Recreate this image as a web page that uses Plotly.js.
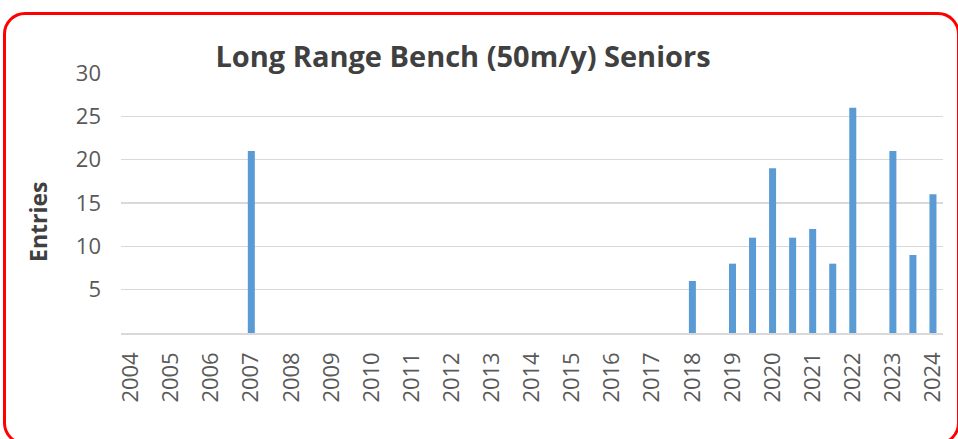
<!DOCTYPE html>
<html>
<head>
<meta charset="utf-8">
<script src="https://cdn.plot.ly/plotly-3.0.1.min.js"></script>
<style>
  html, body { margin: 0; padding: 0; background: #ffffff; overflow: hidden; }
  #wrap { position: relative; width: 958px; height: 439px; overflow: hidden; }
  #chart { position: absolute; left: 0; top: 0; width: 958px; height: 439px; }
  #frame {
    position: absolute; left: 3px; top: 12px; width: 957px; height: 433px;
    box-sizing: border-box; border: 3px solid #ff0000; border-radius: 22px;
    pointer-events: none;
  }
</style>
</head>
<body>
<div id="wrap">
  <div id="chart"></div>
  <div id="frame"></div>
</div>
<script>
// Category slots (half-year slots between labelled years)
const categories = [
  '2004','2004.5','2005','2005.5','2006','2006.5','2007','2007.5','2008','2008.5',
  '2009','2009.5','2010','2010.5','2011','2011.5','2012','2012.5','2013','2013.5',
  '2014','2014.5','2015','2015.5','2016','2016.5','2017','2017.5','2018','2018.5',
  '2019','2019.5','2020','2020.5','2021','2021.5','2022','2022.5','2023','2023.5','2024'
];
// Entries per slot (null = no bar)
const entries = [
  null,null,null,null,null,null,21,null,null,null,
  null,null,null,null,null,null,null,null,null,null,
  null,null,null,null,null,null,null,null,6,null,
  8,11,19,11,12,8,26,null,21,9,16
];
const tickYears = ['2004','2005','2006','2007','2008','2009','2010','2011','2012','2013',
  '2014','2015','2016','2017','2018','2019','2020','2021','2022','2023','2024'];
const yTicks = [5, 10, 15, 20, 25, 30];
const yTitle = 'Entries';

const trace = {
  type: 'bar',
  x: categories,
  y: entries,
  marker: { color: '#5b9bd5' },
  hoverinfo: 'x+y'
};

const layout = {
  width: 958,
  height: 439,
  margin: { l: 121, r: 15, t: 73, b: 106 },
  paper_bgcolor: '#ffffff',
  plot_bgcolor: '#ffffff',
  bargap: 0.65,
  showlegend: false,
  font: { family: '"Open Sans", sans-serif', color: '#595959' },
  title: {
    text: 'Long Range Bench (50m/y) Seniors',
    font: { family: '"Open Sans", sans-serif', size: 29, color: '#404040', weight: 'bold' },
    xref: 'container', yref: 'container',
    x: 463 / 958, xanchor: 'center',
    y: 1 - 57 / 439, yanchor: 'middle'
  },
  xaxis: {
    type: 'category',
    categoryorder: 'array',
    categoryarray: categories,
    range: [-0.5, categories.length - 0.5],
    tickmode: 'array',
    tickvals: tickYears,
    ticktext: tickYears,
    tickangle: -90,
    tickfont: { size: 22, color: '#595959' },
    ticks: '',
    ticklabelstandoff: 9,
    showgrid: false,
    showline: true,
    linecolor: '#d9d9d9',
    linewidth: 1.5,
    zeroline: false,
    fixedrange: true
  },
  yaxis: {
    range: [0, 30],
    tickmode: 'array',
    tickvals: yTicks,
    ticktext: yTicks.map(String),
    tickfont: { size: 22, color: '#595959' },
    ticks: '',
    ticklabelstandoff: 19,
    showgrid: true,
    gridcolor: '#d9d9d9',
    gridwidth: 1.4,
    zeroline: false,
    showline: false,
    fixedrange: true
  },
  annotations: [{
    text: yTitle,
    xref: 'paper', yref: 'paper',
    x: (38 - 121) / 822, y: (333 - 222) / 260,
    xanchor: 'center', yanchor: 'middle',
    textangle: -90,
    showarrow: false,
    font: { family: '"Open Sans", sans-serif', size: 23, color: '#404040', weight: 'bold' }
  }]
};

Plotly.newPlot('chart', [trace], layout, { displayModeBar: false, staticPlot: true });
</script>
</body>
</html>
